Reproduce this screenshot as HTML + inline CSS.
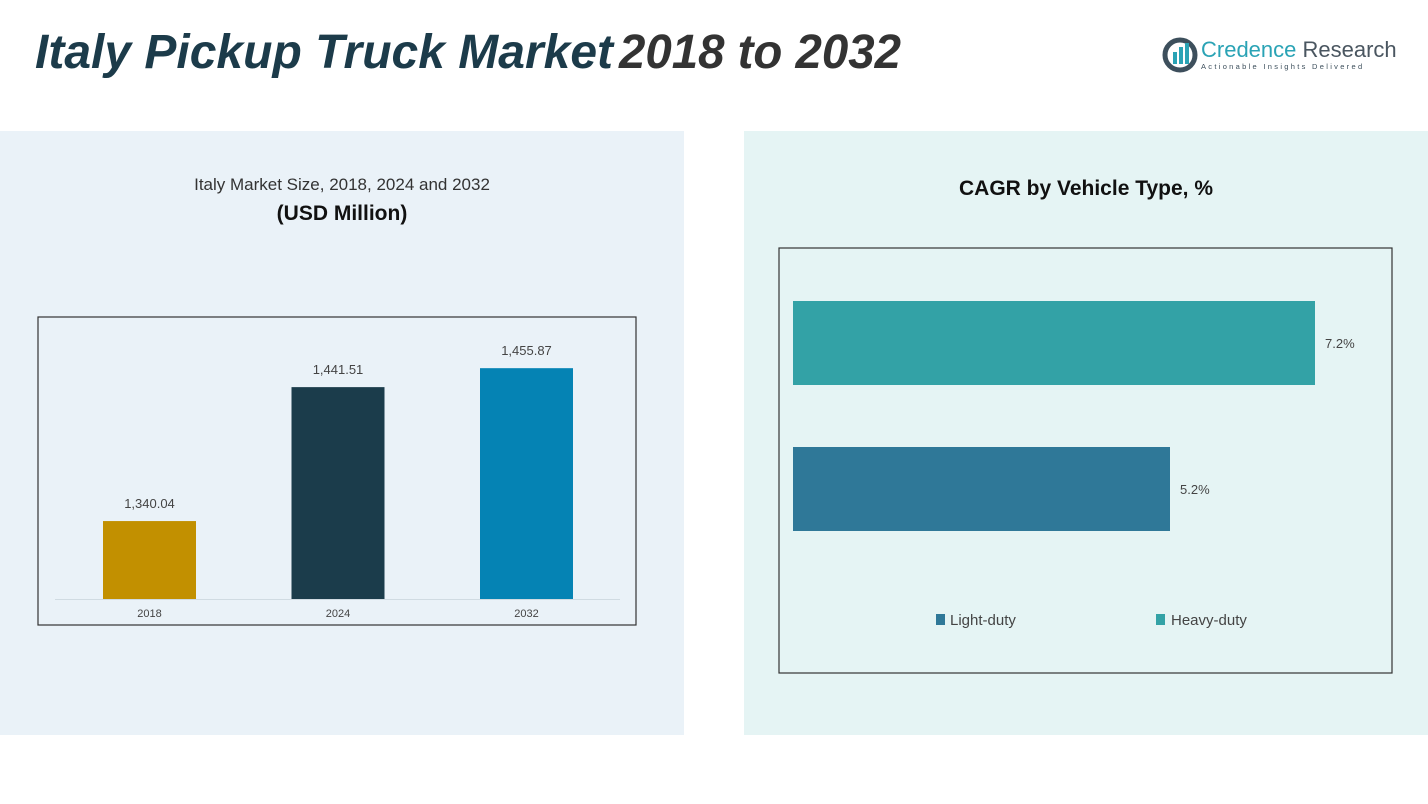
<!DOCTYPE html>
<html><head><meta charset="utf-8">
<style>
html,body{margin:0;padding:0;background:#fff;}
body{width:1428px;height:804px;overflow:hidden;font-family:"Liberation Sans",sans-serif;}
</style></head>
<body>
<svg width="1428" height="804" xmlns="http://www.w3.org/2000/svg" style="display:block">
  <rect x="0" y="0" width="1428" height="804" fill="#ffffff"/>
  <rect x="0" y="131" width="684" height="604" fill="#eaf2f8"/>
  <rect x="744" y="131" width="684" height="604" fill="#e5f4f4"/>
  <g font-style="italic" font-weight="bold" font-size="48">
    <text x="35" y="68" fill="#1c3b4a" textLength="578" lengthAdjust="spacingAndGlyphs">Italy Pickup Truck Market</text>
    <text x="619" y="68" fill="#333333" textLength="282" lengthAdjust="spacingAndGlyphs">2018 to 2032</text>
  </g>
  <g>
    <circle cx="1180" cy="55" r="15" fill="none" stroke="#3d4f5c" stroke-width="5"/>
    <rect x="1173" y="52" width="4" height="12" fill="#2aa3b5"/>
    <rect x="1179" y="47" width="4" height="17" fill="#2aa3b5"/>
    <rect x="1185" y="43" width="4" height="21" fill="#2aa3b5"/>
    <text x="1201" y="57" font-size="22" fill="#2aa3b5">Credence <tspan fill="#4a5660">Research</tspan></text>
    <text x="1201" y="69" font-size="7.5" fill="#3d4f5c" letter-spacing="2.3">Actionable Insights Delivered</text>
  </g>
  <text x="342" y="190" text-anchor="middle" font-size="17" fill="#333">Italy Market Size, 2018, 2024 and 2032</text>
  <text x="342" y="220" text-anchor="middle" font-size="21" font-weight="bold" fill="#111">(USD Million)</text>
  <rect x="38" y="317" width="598" height="308" fill="none" stroke="#333" stroke-width="1.2"/>
  <line x1="55" y1="599.5" x2="620" y2="599.5" stroke="#d0dbe2" stroke-width="1"/>
  <g id="bars"></g>
  <text x="1086" y="195" text-anchor="middle" font-size="21" font-weight="bold" fill="#111">CAGR by Vehicle Type, %</text>
  <rect x="779" y="248" width="613" height="425" fill="none" stroke="#333" stroke-width="1.2"/>
  <g id="hbars"></g>
  <g font-size="15" fill="#444">
    <rect x="936" y="614" width="9" height="11" fill="#2f7898"/>
    <text x="950" y="625">Light-duty</text>
    <rect x="1156" y="614" width="9" height="11" fill="#33a2a6"/>
    <text x="1171" y="625">Heavy-duty</text>
  </g>
</svg>
<script>
const years = ['2018','2024','2032'];
const marketValues = [1340.04, 1441.51, 1455.87];
const valueLabels = ['1,340.04','1,441.51','1,455.87'];
const barColors = ['#c29000','#1b3c4b','#0583b4'];
const vehicleTypes = ['Heavy-duty','Light-duty'];
const cagrValues = [7.2, 5.2];
const cagrLabels = ['7.2%','5.2%'];
const hbarColors = ['#33a2a6','#2f7898'];

const NS='http://www.w3.org/2000/svg';
function mk(tag, attrs){const e=document.createElementNS(NS,tag);for(const k in attrs)e.setAttribute(k,attrs[k]);return e;}
// vertical bar axes
const yBase=599, yMin=1281, pxPerUnit=1.32;
function yScale(v){return yBase-(v-yMin)*pxPerUnit;}
function xCenter(i){return 149.5+i*188.5;}
const bw=93;
const g=document.getElementById('bars');
years.forEach((yr,i)=>{
  const y=yScale(marketValues[i]);
  const r=mk('rect',{x:xCenter(i)-bw/2,y:y,width:bw,height:yBase-y,fill:barColors[i]});
  
  
  g.appendChild(r);
  const t=mk('text',{x:xCenter(i),y:y-13,'text-anchor':'middle','font-size':'13',fill:'#444'});
  t.textContent=valueLabels[i];
  
  
  g.appendChild(t);
  const xl=mk('text',{x:xCenter(i),y:617,'text-anchor':'middle','font-size':'11',fill:'#444'});
  xl.textContent=yr;
  
  
  g.appendChild(xl);
});
// horizontal bars
const x0=793, pxPerPct=72.5;
function xScale(v){return x0+v*pxPerPct;}
function yTop(i){return 301+i*146;}
const bh=84;
const hg=document.getElementById('hbars');
vehicleTypes.forEach((vt,i)=>{
  const r=mk('rect',{x:x0,y:yTop(i),width:xScale(cagrValues[i])-x0,height:bh,fill:hbarColors[i]});
  
  
  hg.appendChild(r);
  const t=mk('text',{x:xScale(cagrValues[i])+10,y:yTop(i)+bh/2+5,'font-size':'13',fill:'#444'});
  t.textContent=cagrLabels[i];
  
  
  hg.appendChild(t);
});
</script>
</body></html>
